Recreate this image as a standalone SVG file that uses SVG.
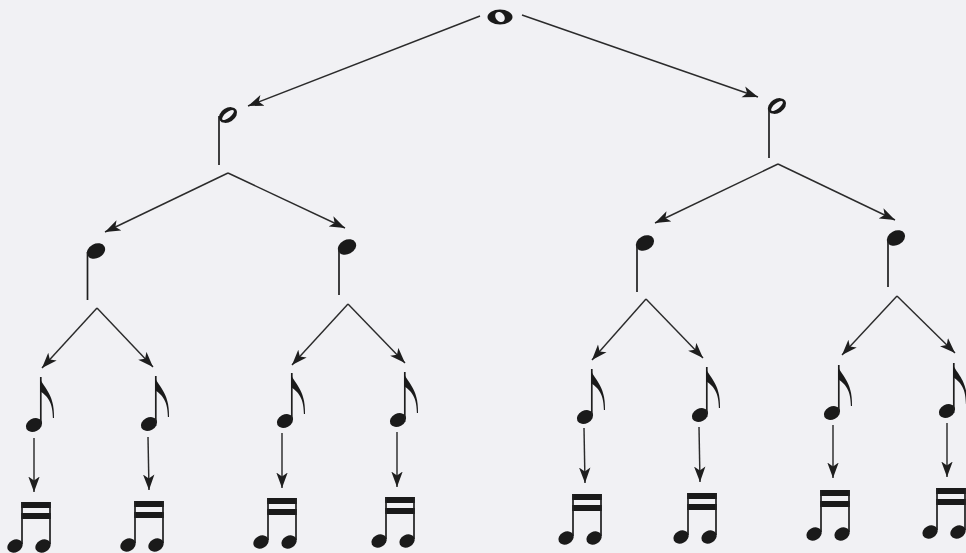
<svg xmlns="http://www.w3.org/2000/svg" xmlns:xlink="http://www.w3.org/1999/xlink" width="966" height="553" viewBox="0 0 966 553">
  <style>
    .ink { fill: #1a1a1a; }
    .stem { stroke: #1f1f1f; stroke-width: 1.7; fill: none; }
    .edge { stroke: #2b2b2b; stroke-width: 1.45; fill: none; marker-end: url(#arrow); }
    .hole { fill: #f1f1f4; }
  </style>
  <defs>
    <marker id="arrow" markerUnits="userSpaceOnUse" markerWidth="17" markerHeight="13" refX="15.5" refY="6.5" orient="auto">
      <path d="M0,0.8 L15.5,6.5 L0,12.2 L4,6.5 Z" fill="#1e1e1e"/>
    </marker>
    <g id="whole">
      <ellipse class="ink" cx="0" cy="0" rx="12.5" ry="7.4"/>
      <ellipse class="hole" cx="0" cy="0" rx="4.2" ry="5.6" transform="rotate(-40)"/>
    </g>
    <g id="half">
      <ellipse class="ink" cx="0" cy="0" rx="9.8" ry="7" transform="rotate(-32)"/>
      <ellipse class="hole" cx="0" cy="0" rx="7.2" ry="2.7" transform="rotate(-38)"/>
    </g>
    <g id="qhead">
      <ellipse class="ink" cx="0" cy="0" rx="9.6" ry="7.2" transform="rotate(-28)"/>
    </g>
    <g id="ehead">
      <ellipse class="ink" cx="0" cy="0" rx="8.6" ry="6.4" transform="rotate(-28)"/>
    </g>
    <g id="eighth">
      <use href="#ehead"/>
      <line class="stem" x1="6.8" y1="-1" x2="6.8" y2="-48"/>
      <path class="ink" d="M6,-48 C7,-39 21,-33 20,-7 L18.9,-7 C18.8,-26 11,-30 6,-34 Z"/>
    </g>
    <g id="sixteenths">
      <rect class="ink" x="-0.8" y="0" width="29.6" height="6"/>
      <rect class="ink" x="-0.8" y="11" width="29.6" height="6"/>
      <line class="stem" x1="0" y1="0" x2="0" y2="42"/>
      <line class="stem" x1="28" y1="0" x2="28" y2="42"/>
      <ellipse class="ink" cx="-7" cy="44" rx="8" ry="6.2" transform="rotate(-28 -7 44)"/>
      <ellipse class="ink" cx="21" cy="44" rx="8" ry="6.2" transform="rotate(-28 21 44)"/>
    </g>
  </defs>

  <rect x="0" y="0" width="966" height="553" fill="#f1f1f4"/>

  <!-- nodes -->
  <g id="n-whole"><use href="#whole" x="500" y="17"/></g>

  <g id="n-half-L"><use href="#half" x="228" y="115"/><line class="stem" x1="219" y1="116" x2="219" y2="165"/></g>
  <g id="n-half-R"><use href="#half" x="777" y="106"/><line class="stem" x1="769" y1="107" x2="769" y2="158"/></g>

  <g id="n-q1"><use href="#qhead" x="96" y="251"/><line class="stem" x1="87.5" y1="252" x2="87.5" y2="300"/></g>
  <g id="n-q2"><use href="#qhead" x="347" y="247"/><line class="stem" x1="339" y1="248" x2="339" y2="295"/></g>
  <g id="n-q3"><use href="#qhead" x="645" y="243"/><line class="stem" x1="637" y1="244" x2="637" y2="292"/></g>
  <g id="n-q4"><use href="#qhead" x="896" y="238"/><line class="stem" x1="888" y1="239" x2="888" y2="287"/></g>

  <g id="n-e1"><use href="#eighth" x="34" y="425"/></g>
  <g id="n-e2"><use href="#eighth" x="149" y="424"/></g>
  <g id="n-e3"><use href="#eighth" x="285" y="421"/></g>
  <g id="n-e4"><use href="#eighth" x="398" y="420"/></g>
  <g id="n-e5"><use href="#eighth" x="585" y="417"/></g>
  <g id="n-e6"><use href="#eighth" x="700" y="415"/></g>
  <g id="n-e7"><use href="#eighth" x="832" y="413"/></g>
  <g id="n-e8"><use href="#eighth" x="947" y="411"/></g>

  <g id="n-s1"><use href="#sixteenths" x="22" y="502"/></g>
  <g id="n-s2"><use href="#sixteenths" x="135" y="501"/></g>
  <g id="n-s3"><use href="#sixteenths" x="268" y="498"/></g>
  <g id="n-s4"><use href="#sixteenths" x="386" y="497"/></g>
  <g id="n-s5"><use href="#sixteenths" x="573" y="494"/></g>
  <g id="n-s6"><use href="#sixteenths" x="688" y="493"/></g>
  <g id="n-s7"><use href="#sixteenths" x="821" y="490"/></g>
  <g id="n-s8"><use href="#sixteenths" x="937" y="488"/></g>

  <!-- connectors -->
  <g id="connectors">
    <line class="edge" x1="480" y1="16" x2="248" y2="106"/>
    <line class="edge" x1="522" y1="15" x2="758" y2="97"/>

    <line class="edge" x1="228" y1="173" x2="105" y2="232"/>
    <line class="edge" x1="228" y1="173" x2="345" y2="228"/>
    <line class="edge" x1="778" y1="164" x2="655" y2="223"/>
    <line class="edge" x1="778" y1="164" x2="895" y2="220"/>

    <line class="edge" x1="97" y1="308" x2="42" y2="368"/>
    <line class="edge" x1="97" y1="308" x2="153" y2="367"/>
    <line class="edge" x1="348" y1="304" x2="292" y2="365"/>
    <line class="edge" x1="348" y1="304" x2="405" y2="363"/>
    <line class="edge" x1="646" y1="299" x2="592" y2="360"/>
    <line class="edge" x1="646" y1="299" x2="703" y2="358"/>
    <line class="edge" x1="897" y1="296" x2="842" y2="355"/>
    <line class="edge" x1="897" y1="296" x2="955" y2="353"/>

    <line class="edge" x1="34" y1="438" x2="34" y2="492"/>
    <line class="edge" x1="148" y1="437" x2="149" y2="490"/>
    <line class="edge" x1="282" y1="433" x2="282" y2="488"/>
    <line class="edge" x1="397" y1="432" x2="397" y2="487"/>
    <line class="edge" x1="584" y1="428" x2="585" y2="483"/>
    <line class="edge" x1="699" y1="427" x2="700" y2="482"/>
    <line class="edge" x1="833" y1="425" x2="833" y2="478"/>
    <line class="edge" x1="947" y1="423" x2="947" y2="477"/>
  </g>
</svg>
